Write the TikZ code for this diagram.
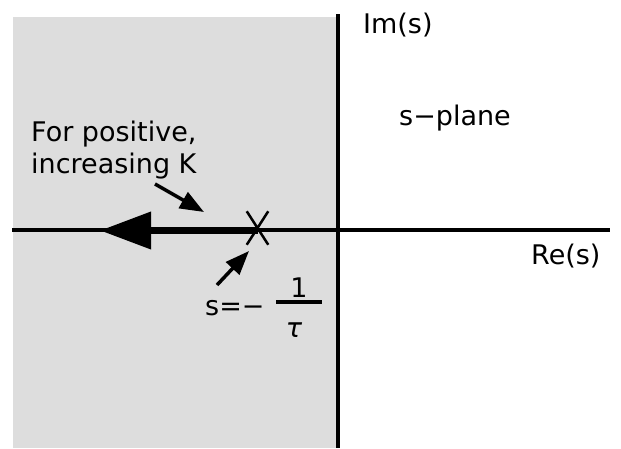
\documentclass[tikz,border=0pt]{standalone}
\usepackage{fontspec}
\setmainfont{DejaVu Sans}
\usetikzlibrary{arrows.meta,shapes.misc}
\begin{document}
\begin{tikzpicture}[x=1pt,y=-1pt,
  axis/.style={line width=4pt},
  lbl/.style={font=\fontsize{27}{30}\selectfont, inner sep=0pt, anchor=base west},
  pointer/.style={line width=3.5pt, -{Triangle[length=24pt,width=18pt]}},
  locus/.style={line width=7pt, -{Triangle[length=51pt,width=36pt]}}]
\useasboundingbox (0,0) rectangle (621,448);
\fill[fill={rgb,255:red,221;green,221;blue,221}] (13,17) rectangle (336,448);
% axes
\coordinate (xl) at (12,230);
\coordinate (xr) at (610,230);
\coordinate (yt) at (338,14);
\coordinate (yb) at (338,448);
\draw[axis] (xl) -- (xr);
\draw[axis] (yt) -- (yb);
% pole
\node[cross out, draw, line width=2.5pt, minimum width=19pt, minimum height=31pt, inner sep=0pt] (pole) at (257.5,228) {};
\coordinate (tip) at (100,230.5);
\draw[locus] (257.5,230.5) -- (tip);
% labels
\node[lbl] (im) at (363,33) {Im(s)};
\node[lbl] (plane) at (399,125) {s−plane};
\node[lbl] (re) at (531,264) {Re(s)};
\node[lbl] (fp) at (31,141) {For positive,};
\node[lbl] (inc) at (31,173) {increasing K};
\node[lbl] (seq) at (205,315) {s=−};
\node[font=\fontsize{27}{30}\selectfont, inner sep=0pt, anchor=base] (one) at (299,297) {1};
\node[font=\fontsize{27}{30}\selectfont\itshape, inner sep=0pt, anchor=base] (tau) at (294,337) {τ};
\draw[line width=4pt] (276,302) -- (322,302);
% pointers
\coordinate (p1s) at (155,184);
\coordinate (p1e) at (204,212);
\draw[pointer] (p1s) -- (p1e);
\coordinate (p2s) at (217,285);
\coordinate (p2e) at (249,251);
\draw[pointer] (p2s) -- (p2e);
\end{tikzpicture}
\end{document}
